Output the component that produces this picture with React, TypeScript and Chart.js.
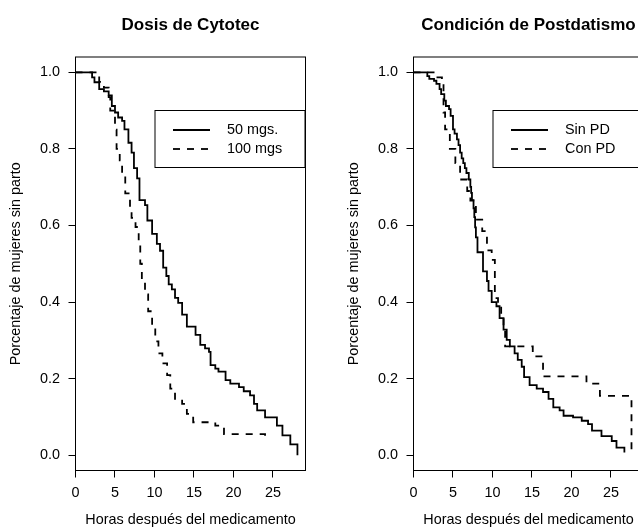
import React, { useEffect, useRef } from "react";
import { Chart, registerables } from "chart.js";

Chart.register(...registerables);

// ---- tick labels ----
const xTicks = [0, 5, 10, 15, 20, 25];
const yTicks = [0, 0.2, 0.4, 0.6, 0.8, 1.0];

// ---- Panel 1: Dosis de Cytotec ----
const dose50Time = [0, 2.1, 2.4, 3.0, 3.6, 4.2, 4.6, 5.0, 5.4, 5.9, 6.2, 6.7, 7.1, 7.4, 7.8, 8.1, 8.8, 9.1, 9.7, 10.3, 10.7, 11.1, 11.5, 11.8, 12.2, 12.6, 13.0, 13.5, 14.1, 15.2, 15.8, 16.4, 16.9, 17.1, 17.7, 18.1, 19.0, 19.6, 20.7, 21.3, 22.1, 22.6, 23.0, 24.0, 25.5, 26.2, 27.2, 28.1];
const dose50Surv = [1.0, 0.987, 0.974, 0.956, 0.95, 0.94, 0.912, 0.895, 0.882, 0.873, 0.851, 0.816, 0.79, 0.75, 0.723, 0.666, 0.653, 0.613, 0.578, 0.552, 0.534, 0.49, 0.468, 0.446, 0.433, 0.411, 0.398, 0.367, 0.336, 0.314, 0.288, 0.279, 0.27, 0.235, 0.226, 0.218, 0.196, 0.187, 0.178, 0.167, 0.156, 0.134, 0.117, 0.099, 0.077, 0.052, 0.028, 0.0];

const dose100Time = [0, 3.0, 3.6, 4.2, 4.4, 5.0, 5.2, 5.6, 5.9, 6.3, 6.9, 7.1, 7.6, 8.0, 8.2, 8.4, 8.8, 9.2, 9.7, 10.1, 10.5, 11.0, 11.6, 12.0, 12.6, 13.5, 14.1, 14.9, 17.7, 18.8, 24.0];
const dose100Surv = [1.0, 0.975, 0.96, 0.935, 0.9, 0.85, 0.8, 0.77, 0.728, 0.684, 0.64, 0.62, 0.596, 0.552, 0.5, 0.455, 0.42, 0.376, 0.332, 0.297, 0.266, 0.24, 0.209, 0.174, 0.147, 0.134, 0.108, 0.086, 0.077, 0.055, 0.045];

// ---- Panel 2: Condición de Postdatismo ----
const sinPdTime = [0, 1.75, 2.0, 2.6, 2.9, 3.3, 3.5, 3.9, 4.1, 4.5, 4.7, 5.0, 5.2, 5.5, 5.7, 5.9, 6.1, 6.3, 6.5, 6.7, 7.0, 7.2, 7.3, 7.4, 7.6, 7.7, 7.8, 7.9, 8.1, 8.8, 9.3, 9.5, 9.9, 10.5, 10.9, 11.4, 11.8, 12.2, 12.8, 13.2, 13.7, 14.0, 14.7, 15.6, 16.4, 17.1, 17.7, 18.5, 19.0, 20.2, 21.3, 22.1, 22.6, 23.8, 25.1, 25.7, 26.7];
const sinPdSurv = [1.0, 0.99, 0.983, 0.978, 0.97, 0.956, 0.943, 0.926, 0.912, 0.904, 0.886, 0.851, 0.84, 0.825, 0.81, 0.79, 0.775, 0.763, 0.75, 0.737, 0.72, 0.701, 0.685, 0.666, 0.645, 0.622, 0.595, 0.569, 0.53, 0.48, 0.455, 0.429, 0.4, 0.389, 0.358, 0.328, 0.301, 0.284, 0.266, 0.249, 0.231, 0.204, 0.183, 0.174, 0.165, 0.147, 0.125, 0.117, 0.103, 0.099, 0.09, 0.081, 0.064, 0.05, 0.037, 0.02, 0.007];

const conPdTime = [0, 2.7, 3.6, 3.8, 4.0, 4.6, 5.3, 5.9, 6.8, 7.2, 7.9, 8.7, 9.3, 9.9, 10.3, 10.7, 11.1, 11.4, 11.6, 15.1, 16.4, 21.9, 23.6, 27.6];
const conPdSurv = [1.0, 0.987, 0.97, 0.895, 0.851, 0.8, 0.763, 0.72, 0.69, 0.665, 0.615, 0.585, 0.535, 0.51, 0.41, 0.389, 0.363, 0.336, 0.284, 0.258, 0.206, 0.187, 0.155, 0.01];

const FONT = "'Liberation Sans', Arial, Helvetica, sans-serif";
const W = 338;
const H = 532;

type PanelDef = {
  title: string;
  offset: number;
  series: { label: string; time: number[]; surv: number[]; dash: number[] }[];
};

const panels: PanelDef[] = [
  {
    title: "Dosis de Cytotec",
    offset: 0,
    series: [
      { label: "50 mgs.", time: dose50Time, surv: dose50Surv, dash: [] },
      { label: "100 mgs", time: dose100Time, surv: dose100Surv, dash: [7, 7] },
    ],
  },
  {
    title: "Condición de Postdatismo",
    offset: 338,
    series: [
      { label: "Sin PD", time: sinPdTime, surv: sinPdSurv, dash: [] },
      { label: "Con PD", time: conPdTime, surv: conPdSurv, dash: [7, 7] },
    ],
  },
];

function makeDecor(title: string) {
  return {
    id: "rDecor",
    afterDraw(chart: any) {
      const ctx = chart.ctx as CanvasRenderingContext2D;
      const a = chart.chartArea;
      ctx.save();
      // box
      ctx.strokeStyle = "#000";
      ctx.lineWidth = 1;
      ctx.setLineDash([]);
      ctx.strokeRect(a.left, a.top, a.right - a.left, a.bottom - a.top);
      // title
      ctx.fillStyle = "#000";
      ctx.textAlign = "center";
      ctx.textBaseline = "middle";
      ctx.font = `bold 17px ${FONT}`;
      const cx = (a.left + a.right) / 2;
      ctx.fillText(title, cx, 25);
      // x axis title
      ctx.font = `14.4px ${FONT}`;
      ctx.fillText("Horas después del medicamento", cx, 520);
      // y axis title
      ctx.save();
      ctx.translate(16.5, (a.top + a.bottom) / 2);
      ctx.rotate(-Math.PI / 2);
      ctx.fillText("Porcentaje de mujeres sin parto", 0, 0);
      ctx.restore();
      // legend
      const lx = a.left + 79.5;
      const ly = 110.5;
      const lw = 150;
      const lh = 57;
      ctx.fillStyle = "#fff";
      ctx.fillRect(lx, ly, lw, lh);
      ctx.strokeStyle = "#000";
      ctx.lineWidth = 1;
      ctx.strokeRect(lx, ly, lw, lh);
      const ds = chart.data.datasets;
      ds.forEach((d: any, i: number) => {
        const yy = ly + 19.5 + i * 19;
        ctx.beginPath();
        ctx.setLineDash(d.borderDash || []);
        ctx.lineWidth = d.borderWidth;
        ctx.moveTo(lx + 18, yy);
        ctx.lineTo(lx + 55, yy);
        ctx.stroke();
        ctx.setLineDash([]);
        ctx.fillStyle = "#000";
        ctx.textAlign = "left";
        ctx.font = `14.4px ${FONT}`;
        ctx.fillText(d.label, lx + 72, yy);
      });
      ctx.restore();
    },
  };
}

function Panel({ def }: { def: PanelDef }) {
  const ref = useRef<HTMLCanvasElement | null>(null);
  useEffect(() => {
    if (!ref.current) return;
    const chart = new Chart(ref.current, {
      type: "line",
      data: {
        datasets: def.series.map((s) => ({
          label: s.label,
          data: s.time.map((t, i) => ({ x: t, y: s.surv[i] })),
          stepped: "before" as const,
          borderColor: "#000",
          borderWidth: 1.8,
          borderDash: s.dash,
          pointRadius: 0,
          fill: false,
          tension: 0,
        })),
      },
      options: {
        responsive: false,
        maintainAspectRatio: false,
        animation: false,
        events: [],
        layout: { padding: { left: 0, right: W - 305.5, top: 57, bottom: 0 } },
        plugins: { legend: { display: false }, tooltip: { enabled: false }, title: { display: false } },
        scales: {
          x: {
            type: "linear",
            min: 0,
            max: 29.12,
            afterFit: (s: any) => {
              s.height = H - 470.5;
            },
            afterBuildTicks: (s: any) => {
              s.ticks = xTicks.map((v) => ({ value: v }));
            },
            border: { display: false },
            grid: { drawOnChartArea: false, drawTicks: true, tickLength: 7, color: "#000", lineWidth: 1 },
            ticks: {
              color: "#000",
              font: { family: FONT, size: 14.4 },
              padding: 7,
              maxRotation: 0,
              callback: (v: any) => String(v),
            },
          },
          y: {
            type: "linear",
            min: -0.04,
            max: 1.04,
            afterFit: (s: any) => {
              s.width = 75.5;
            },
            afterBuildTicks: (s: any) => {
              s.ticks = yTicks.map((v) => ({ value: v }));
            },
            border: { display: false },
            grid: { drawOnChartArea: false, drawTicks: true, tickLength: 7, color: "#000", lineWidth: 1 },
            ticks: {
              color: "#000",
              font: { family: FONT, size: 14.4 },
              padding: 8.5,
              callback: (v: any) => Number(v).toFixed(1),
            },
          },
        },
      },
      plugins: [makeDecor(def.title)],
    });
    return () => chart.destroy();
  }, [def]);
  return (
    <canvas
      ref={ref}
      width={W}
      height={H}
      style={{ position: "absolute", left: def.offset, top: 0, width: W, height: H }}
    />
  );
}

export default function App() {
  return (
    <div
      style={{
        position: "fixed",
        left: 0,
        top: 0,
        width: 638,
        height: 532,
        overflow: "hidden",
        background: "#fff",
      }}
    >
      {panels.map((p) => (
        <Panel key={p.title} def={p} />
      ))}
    </div>
  );
}
